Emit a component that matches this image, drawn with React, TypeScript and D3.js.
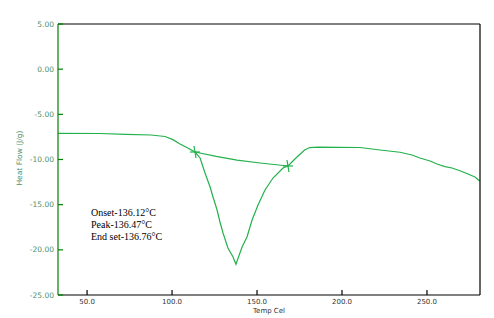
import React from "react";
import * as d3 from "d3";

const temps = [33, 57.6, 72.9, 87.6, 95.9, 100.5, 104.7, 109, 113.5, 116.5, 119.4, 122.4, 124.1, 126.5, 128.2, 130.0, 132.9, 135.9, 137.6, 141.2, 144.1, 147.1, 150.6, 154.7, 159.4, 165.3, 168.2, 173.5, 178, 181, 186, 210.6, 222.4, 234.1, 241.2, 245.9, 251.8, 255.9, 260.6, 264.7, 269.4, 274.1, 278.2, 281];
const heatFlow = [-7.1, -7.12, -7.21, -7.29, -7.45, -7.8, -8.28, -8.7, -9.17, -9.83, -11.5, -13.05, -14.15, -15.59, -16.92, -18.14, -19.8, -20.79, -21.6, -19.69, -18.58, -16.7, -15.04, -13.38, -12.05, -10.94, -10.72, -9.72, -8.95, -8.68, -8.64, -8.67, -8.95, -9.2, -9.5, -9.83, -10.17, -10.5, -10.78, -10.94, -11.24, -11.61, -11.94, -12.38];
const baseTemps = [113.5, 126, 138.2, 151.8, 168.2];
const baseFlow = [-9.17, -9.65, -10.06, -10.39, -10.72];
const markerTemps = [113.5, 168.2];
const markerFlow = [-9.17, -10.72];
const yTicks = [5, 0, -5, -10, -15, -20, -25];
const xTicks = [50, 100, 150, 200, 250];
const annotations = ["Onset-136.12°C", "Peak-136.47°C", "End set-136.76°C"];

export default function App() {
  const W = 494, H = 318;
  const L = 58, R = 480, T = 24, B = 295;
  const x = d3.scaleLinear().domain([32.9, 281.2]).range([L, R]);
  const y = d3.scaleLinear().domain([-25, 5]).range([B, T]);
  const line = d3.line<[number, number]>().x(d => x(d[0])).y(d => y(d[1]));
  const curve = temps.map((t, i) => [t, heatFlow[i]] as [number, number]);
  const base = baseTemps.map((t, i) => [t, baseFlow[i]] as [number, number]);
  const green = "#22b14c";
  const labelColor = "#4e8f6c";
  return (
    <svg width={W} height={H} style={{ position: "absolute", left: 0, top: 0, background: "#fff" }}>
      <path d={line(curve) || ""} fill="none" stroke={green} strokeWidth={1.2} />
      <path d={line(base) || ""} fill="none" stroke={green} strokeWidth={1.2} />
      {markerTemps.map((t, i) => (
        <g key={i} transform={`translate(${x(t)},${y(markerFlow[i])})`} stroke={green} strokeWidth={1.2}>
          <line x1={-1} y1={-6} x2={1} y2={6} />
          <line x1={-5} y1={0} x2={5} y2={0} />
        </g>
      ))}
      {/* frame */}
      <line x1={L} y1={T} x2={R} y2={T} stroke="#000" strokeWidth={1.2} />
      <line x1={R} y1={T} x2={R} y2={B} stroke="#000" strokeWidth={1.2} />
      <line x1={L} y1={B} x2={R} y2={B} stroke="#000" strokeWidth={1.2} />
      <line x1={L} y1={T} x2={L} y2={B} stroke="#008000" strokeWidth={1.2} />
      {yTicks.map(v => (
        <g key={v}>
          <line x1={L} y1={y(v)} x2={L + 5} y2={y(v)} stroke="#008000" strokeWidth={1.2} />
          <text x={L - 4} y={y(v)} dy="0.35em" textAnchor="end" fontFamily="DejaVu Sans, sans-serif" fontSize={7.5} fill={labelColor}>
            {v.toFixed(2)}
          </text>
        </g>
      ))}
      {xTicks.map(v => (
        <g key={v}>
          <line x1={x(v)} y1={B} x2={x(v)} y2={B - 5} stroke="#000" strokeWidth={1.2} />
          <text x={x(v)} y={B + 9} textAnchor="middle" fontFamily="DejaVu Sans, sans-serif" fontSize={7} fill="#333">
            {v.toFixed(1)}
          </text>
        </g>
      ))}
      <text x={(L + R) / 2} y={B + 17.5} textAnchor="middle" fontFamily="DejaVu Sans, sans-serif" fontSize={7} fill="#333">Temp Cel</text>
      <text transform={`translate(22,158) rotate(-90)`} textAnchor="middle" fontFamily="DejaVu Sans, sans-serif" fontSize={7.5} fill={labelColor}>Heat Flow (J/g)</text>
      {annotations.map((a, i) => (
        <text key={i} x={91} y={216 + i * 12} fontFamily="Liberation Serif, serif" fontSize={10} fill="#000">{a}</text>
      ))}
    </svg>
  );
}
